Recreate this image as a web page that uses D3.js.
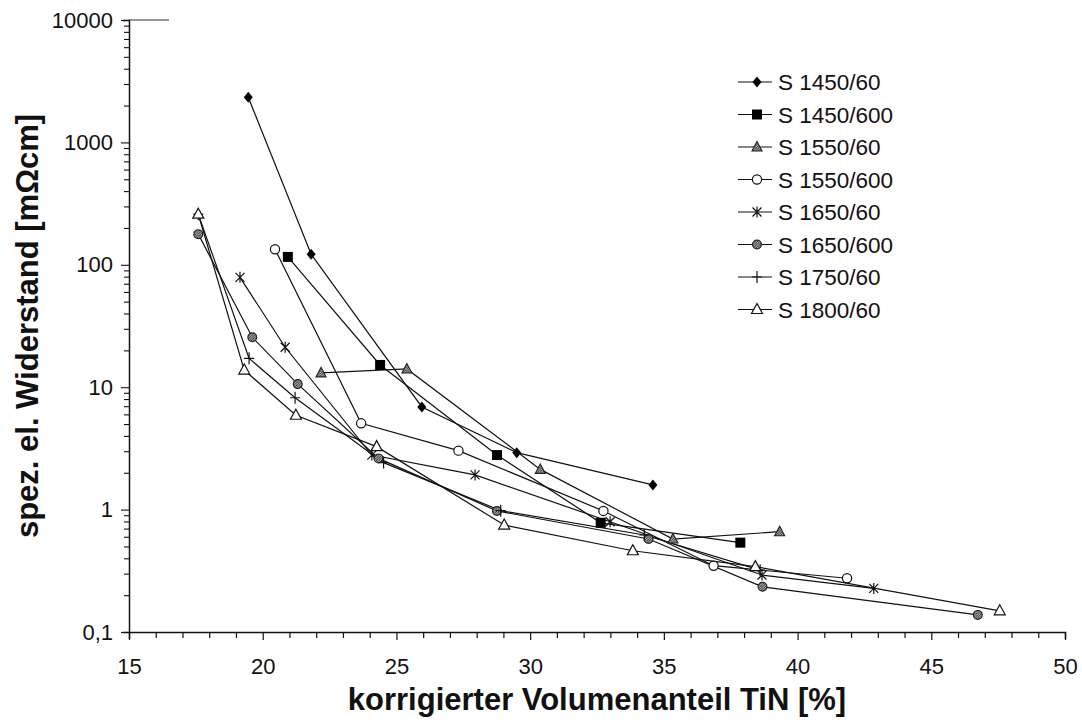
<!DOCTYPE html>
<html>
<head>
<meta charset="utf-8">
<script src="https://cdn.jsdelivr.net/npm/d3@7/dist/d3.min.js"></script>
<style>
  html, body { margin: 0; padding: 0; background: #fff; }
  svg text { font-family: "Liberation Sans", Arial, sans-serif; fill: #111; }
</style>
</head>
<body>
<svg id="chart" width="1082" height="724"></svg>
<script>
// Specific electrical resistance vs. corrected TiN volume fraction
const seriesNames = ["S 1450/60", "S 1450/600", "S 1550/60", "S 1550/600",
                     "S 1650/60", "S 1650/600", "S 1750/60", "S 1800/60"];
const markerTypes = ["diamond", "square", "hatchTriangle", "circle",
                     "asterisk", "hatchCircle", "plus", "triangle"];

// [TiN %, resistance mΩcm]
const s1450_60  = [[19.46, 2340], [21.81, 122], [25.95, 6.9], [29.5, 2.92], [34.59, 1.59]];
const s1450_600 = [[20.94, 116], [24.39, 15.2], [28.76, 2.79], [32.64, 0.78], [37.86, 0.537]];
const s1550_60  = [[22.18, 13.1], [25.39, 14.1], [30.38, 2.13], [35.34, 0.575], [39.33, 0.66]];
const s1550_600 = [[20.46, 134], [23.68, 5.07], [27.32, 3.03], [32.74, 0.975], [36.86, 0.348], [41.85, 0.275]];
const s1650_60  = [[19.15, 79], [20.84, 21.2], [24.08, 2.79], [27.94, 1.92], [32.99, 0.796], [38.67, 0.292], [42.85, 0.227]];
const s1650_600 = [[17.59, 178], [19.61, 25.6], [21.31, 10.6], [24.33, 2.62], [28.76, 0.975], [34.43, 0.575], [38.69, 0.234], [46.74, 0.138]];
const s1750_60  = [[17.59, 259], [19.49, 17.2], [21.21, 8.2], [24.52, 2.42], [28.9, 0.98], [34.27, 0.62], [38.6, 0.32]];
const s1800_60  = [[17.59, 259], [19.31, 13.8], [21.24, 5.9], [24.26, 3.27], [29.03, 0.748], [33.84, 0.461], [38.42, 0.342], [47.56, 0.149]];

const seriesData = [s1450_60, s1450_600, s1550_60, s1550_600, s1650_60, s1650_600, s1750_60, s1800_60];

const xTickValues = [15, 20, 25, 30, 35, 40, 45, 50];
const yTickValues = [0.1, 1, 10, 100, 1000, 10000];
const yTickLabels = ["0,1", "1", "10", "100", "1000", "10000"];

const xTitle = "korrigierter Volumenanteil TiN [%]";
const yTitle = "spez. el. Widerstand [mΩcm]";

const svg = d3.select("#chart");
const m = { left: 129, right: 1065, top: 20, bottom: 632 };

const x = d3.scaleLinear().domain([15, 50]).range([m.left, m.right]);
const y = d3.scaleLog().domain([0.1, 10000]).range([m.bottom, m.top]);

// hatch pattern for the grey-filled markers
const defs = svg.append("defs");
const pat = defs.append("pattern").attr("id", "hatch")
  .attr("patternUnits", "userSpaceOnUse").attr("width", 2.5).attr("height", 2.5);
pat.append("rect").attr("width", 2.5).attr("height", 2.5).attr("fill", "#bbb");
pat.append("path").attr("d", "M0,2.5 L2.5,0").attr("stroke", "#222").attr("stroke-width", 0.9);

// x axis
const xMinor = d3.range(15, 51, 1);
const xAxis = d3.axisBottom(x).tickValues(xMinor).tickSize(7)
  .tickFormat(d => xTickValues.includes(d) ? d : "");
const gx = svg.append("g").attr("transform", `translate(0,${m.bottom})`).call(xAxis);
gx.select(".domain").attr("stroke", "#111").attr("stroke-width", 1.5);
gx.selectAll(".tick line").attr("stroke", "#111").attr("stroke-width", 1.2)
  .attr("y2", d => xTickValues.includes(d) ? 8 : 6);
gx.selectAll(".tick text").attr("font-size", 22).attr("y", 42).attr("dy", 0)
  .attr("font-family", "Liberation Sans, Arial, sans-serif").attr("fill", "#111");

// y axis (log, with minor ticks)
const yMinor = [];
for (let e = -1; e < 4; e++) for (let k = 1; k < 10; k++) yMinor.push(k * Math.pow(10, e));
yMinor.push(10000);
const yAxis = d3.axisLeft(y).tickValues(yMinor).tickSize(6)
  .tickFormat(d => {
    const i = yTickValues.findIndex(v => Math.abs(v - d) / v < 1e-6);
    return i >= 0 ? yTickLabels[i] : "";
  });
const gy = svg.append("g").attr("transform", `translate(${m.left},0)`).call(yAxis);
gy.select(".domain").attr("stroke", "#111").attr("stroke-width", 1.5);
gy.selectAll(".tick line").attr("stroke", "#111").attr("stroke-width", 1.1)
  .attr("x2", d => yTickValues.some(v => Math.abs(v - d) / v < 1e-6) ? -8 : -5);
gy.selectAll(".tick text").attr("font-size", 22).attr("x", -16)
  .attr("font-family", "Liberation Sans, Arial, sans-serif").attr("fill", "#111");

// short stub along the top edge
svg.append("line").attr("x1", m.left).attr("x2", m.left + 40)
  .attr("y1", y(10000)).attr("y2", y(10000))
  .attr("stroke", "#333").attr("stroke-width", 1.2);

// axis titles
svg.append("text").attr("x", (m.left + m.right) / 2).attr("y", 710)
  .attr("text-anchor", "middle").attr("font-size", 31).attr("font-weight", "bold")
  .text(xTitle);
svg.append("text").attr("transform", `translate(38,${(m.top + m.bottom) / 2}) rotate(-90)`)
  .attr("text-anchor", "middle").attr("font-size", 31).attr("font-weight", "bold")
  .text(yTitle);

// marker drawing
function drawMarker(g, type) {
  switch (type) {
    case "diamond":
      g.append("path").attr("d", "M0,-5.5 L4.5,0 L0,5.5 L-4.5,0 Z").attr("fill", "#000");
      break;
    case "square":
      g.append("rect").attr("x", -5).attr("y", -5).attr("width", 10).attr("height", 10).attr("fill", "#000");
      break;
    case "hatchTriangle":
      g.append("path").attr("d", "M0,-5.5 L5,4 L-5,4 Z").attr("fill", "url(#hatch)")
        .attr("stroke", "#222").attr("stroke-width", 1.1);
      break;
    case "triangle":
      g.append("path").attr("d", "M0,-6 L5.5,4 L-5.5,4 Z").attr("fill", "#fff")
        .attr("stroke", "#111").attr("stroke-width", 1.2);
      break;
    case "circle":
      g.append("circle").attr("r", 4.6).attr("fill", "#fff")
        .attr("stroke", "#111").attr("stroke-width", 1.2);
      break;
    case "hatchCircle":
      g.append("circle").attr("r", 4.4).attr("fill", "url(#hatch)")
        .attr("stroke", "#222").attr("stroke-width", 1.2);
      break;
    case "asterisk":
      g.append("path").attr("d", "M-4.5,-4.5 L4.5,4.5 M-4.5,4.5 L4.5,-4.5 M0,-5.5 L0,5.5")
        .attr("stroke", "#111").attr("stroke-width", 1.2).attr("fill", "none");
      break;
    case "plus":
      g.append("path").attr("d", "M0,-6 L0,6 M-5,0 L5,0")
        .attr("stroke", "#111").attr("stroke-width", 1.2).attr("fill", "none");
      break;
  }
}

const line = d3.line().x(d => x(d[0])).y(d => y(d[1]));
const plot = svg.append("g");

seriesData.forEach(data => {
  plot.append("path").datum(data).attr("d", line)
    .attr("fill", "none").attr("stroke", "#111").attr("stroke-width", 1.2);
});
seriesData.forEach((data, i) => {
  data.forEach(d => {
    const g = plot.append("g").attr("transform", `translate(${x(d[0])},${y(d[1])})`);
    drawMarker(g, markerTypes[i]);
  });
});

// legend
const legend = svg.append("g").attr("transform", "translate(738,82)");
seriesNames.forEach((name, i) => {
  const row = legend.append("g").attr("transform", `translate(0,${i * 32.5})`);
  row.append("line").attr("x1", 0).attr("x2", 34).attr("y1", 0).attr("y2", 0)
    .attr("stroke", "#111").attr("stroke-width", 1.2);
  const mg = row.append("g").attr("transform", "translate(19,0)");
  drawMarker(mg, markerTypes[i]);
  row.append("text").attr("x", 40).attr("y", 0).attr("dy", "0.36em")
    .attr("font-size", 22.5).text(name);
});
</script>
</body>
</html>
